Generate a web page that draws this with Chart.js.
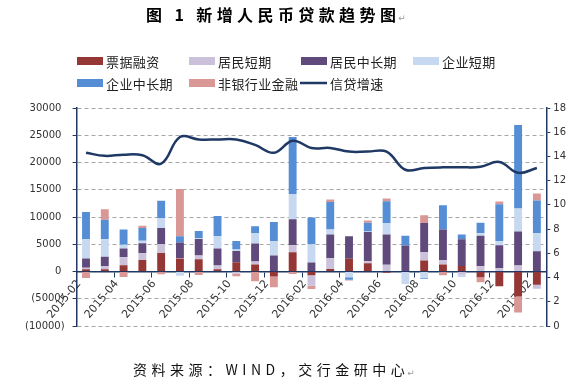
<!DOCTYPE html>
<html>
<head>
<meta charset="utf-8">
<script src="https://cdn.jsdelivr.net/npm/chart.js@4/dist/chart.umd.min.js"></script>
<style>
html,body{margin:0;padding:0;background:#fff;}
#wrap{position:relative;width:581px;height:384px;}
</style>
</head>
<body>
<div id="wrap"><canvas id="c" width="581" height="384"></canvas></div>
<script>
const titleText = '图 1 新增人民币贷款趋势图';
const sourceText = '资料来源：WIND，交行金研中心';
const months = ['2015-02','2015-03','2015-04','2015-05','2015-06','2015-07','2015-08','2015-09','2015-10','2015-11','2015-12','2016-01','2016-02','2016-03','2016-04','2016-05','2016-06','2016-07','2016-08','2016-09','2016-10','2016-11','2016-12','2017-01','2017-02'];
const seriesNames = ['票据融资','居民短期','居民中长期','企业短期','企业中长期','非银行业金融','信贷增速'];
const billFinancing = [400,400,1150,2100,3400,2400,2250,400,1700,1300,-900,3550,-700,450,2350,1500,-250,0,2000,1300,1000,-1050,-2700,-4600,-2450];
const householdShort = [300,600,1450,1250,1650,100,700,700,-400,550,100,1250,-1900,2000,0,400,1250,0,1550,750,-600,950,600,1100,-700];
const householdLong = [1700,1700,1600,1850,2950,2800,3000,3100,2050,3300,2850,4800,1650,4350,4100,5350,5550,4750,5350,5650,4900,5600,4200,6250,3700];
const corpShort = [3500,3200,700,450,1800,-800,200,2300,300,1900,2650,4600,3350,900,-1050,100,2100,-2300,-1150,0,-400,450,750,4200,3300];
const corpLong = [5000,3600,2800,2350,3200,1150,1300,3700,1550,1250,3500,10500,4900,5050,-450,1600,4000,1800,-200,4450,900,1950,6800,15350,6050];
const nonBank = [-1200,1900,-1000,400,-500,8700,-650,0,-450,-1800,-2000,-450,-600,450,-150,400,500,0,1400,-700,0,-900,500,-2900,1250];
const creditGrowth = [14.3,14.05,14.15,14.1,13.4,15.6,15.4,15.4,15.4,14.95,14.3,15.3,14.7,14.7,14.4,14.4,14.4,12.9,13.05,13.1,13.1,13.15,13.55,12.65,13.05];
const leftTicks = {min:-10000,max:30000,step:5000};
const rightTicks = {min:0,max:18,step:2};

const colors = ['#953735','#ccc1da','#604a7b','#c6d9f1','#558ed5','#d99795','#1f3864'];
const navy = '#1f3864';
const barValues = [billFinancing,householdShort,householdLong,corpShort,corpLong,nonBank];

const datasets = barValues.map((vals,i)=>({
  type:'bar', label:seriesNames[i], data:vals, backgroundColor:colors[i],
  borderWidth:0, stack:'s', yAxisID:'y', order:1,
  categoryPercentage:0.42, barPercentage:1.0
}));
datasets.push({
  type:'line', label:seriesNames[6], data:creditGrowth, yAxisID:'y1',
  borderColor:colors[6], borderWidth:2.5, pointRadius:0, tension:0.4,
  fill:false, order:0
});

const decor = {
  id:'decor',
  afterDraw(chart){
    const ctx = chart.ctx;
    ctx.save();
    ctx.fillStyle = '#000';
    ctx.textBaseline = 'middle';
    ctx.textAlign = 'left';
    ctx.font = 'bold 16px "Noto Sans CJK SC"';
    try { ctx.letterSpacing = '4.4px'; } catch(e) {}
    ctx.fillText(titleText, 146, 15);
    const tw = ctx.measureText(titleText).width;
    try { ctx.letterSpacing = '0px'; } catch(e) {}
    ctx.font = '9px "DejaVu Sans"';
    ctx.fillStyle = '#999';
    ctx.fillText('↵', 146 + tw - 2, 19);
    const cols = [77,189,301,413];
    const rows = [61,83];
    ctx.font = '13px "Noto Sans CJK SC"';
    try { ctx.letterSpacing = '0.4px'; } catch(e) {}
    for (let i=0;i<7;i++){
      const r = i<4?0:1, c = i<4?i:i-4;
      const x = cols[c], y = rows[r];
      if (i<6){
        ctx.fillStyle = colors[i];
        ctx.fillRect(x, y-4, 26, 8);
      } else {
        ctx.strokeStyle = colors[6];
        ctx.lineWidth = 2.5;
        ctx.beginPath(); ctx.moveTo(x-1,y); ctx.lineTo(x+26,y); ctx.stroke();
      }
      ctx.fillStyle = '#222';
      ctx.fillText(seriesNames[i], x+29, y+1);
    }
    ctx.font = '14px "Noto Sans CJK SC"';
    try { ctx.letterSpacing = '4.5px'; } catch(e) {}
    ctx.fillStyle = '#111';
    ctx.fillText(sourceText, 133, 370);
    const sw = ctx.measureText(sourceText).width;
    try { ctx.letterSpacing = '0px'; } catch(e) {}
    ctx.font = '9px "DejaVu Sans"';
    ctx.fillStyle = '#999';
    ctx.fillText('↵', 133 + sw - 2, 374);
    ctx.restore();
  }
};

new Chart(document.getElementById('c'), {
  data:{labels:months, datasets},
  options:{
    responsive:false, animation:false,
    layout:{padding:{top:108,bottom:58,left:17,right:12}},
    plugins:{legend:{display:false}, title:{display:false}, tooltip:{enabled:false}},
    scales:{
      x:{
        type:'category', position:{y:0}, offset:true, z:1,
        grid:{display:true, drawOnChartArea:false, drawTicks:true, offset:true, tickLength:5,
          tickColor:(c)=> (c.index%2===0 ? navy : 'rgba(0,0,0,0)'), tickWidth:1},
        border:{display:true, color:navy, width:1.5},
        ticks:{autoSkip:false, maxRotation:50, minRotation:50, labelOffset:-7, padding:1,
          color:'#333', font:{family:'DejaVu Sans', size:11},
          callback:function(v,i){ return i%2===0 ? months[i] : ''; }}
      },
      y:{
        type:'linear', position:'left', min:leftTicks.min, max:leftTicks.max,
        grid:{color:'#a6a6a6', lineWidth:1, tickColor:navy, tickLength:4, tickBorderDash:[], drawTicks:true},
        border:{display:true, color:navy, width:1.5, dash:[4,3]},
        ticks:{stepSize:leftTicks.step, padding:8, color:'#333', font:{family:'DejaVu Sans', size:10},
          callback:(v)=> v<0 ? '(' + (-v) + ')' : v + ' '}
      },
      y1:{
        type:'linear', position:'right', min:rightTicks.min, max:rightTicks.max,
        grid:{drawOnChartArea:false, tickColor:navy, tickLength:4},
        border:{display:true, color:navy, width:1.5},
        ticks:{stepSize:rightTicks.step, padding:3, color:'#333', font:{family:'DejaVu Sans', size:10}}
      }
    }
  },
  plugins:[decor]
});
</script>
</body>
</html>
